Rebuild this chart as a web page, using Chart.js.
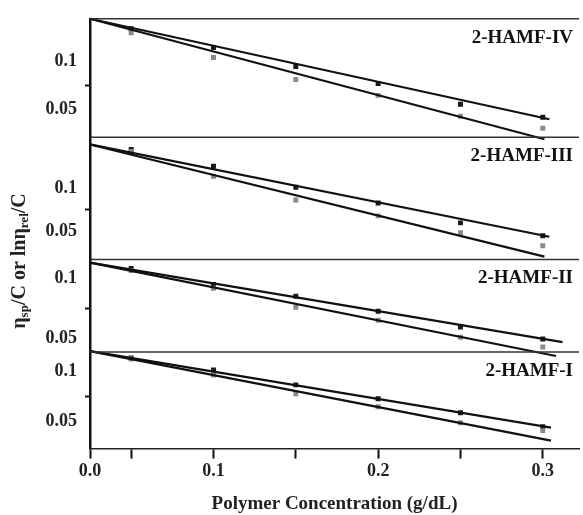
<!DOCTYPE html>
<html>
<head>
<meta charset="utf-8">
<script src="https://cdn.jsdelivr.net/npm/chart.js@4/dist/chart.umd.min.js"></script>
<style>
html,body{margin:0;padding:0;background:#fff;}
</style>
</head>
<body>
<canvas id="chart" width="583" height="515"></canvas>
<script>
// Concentraciones (g/dL)
const conc=[0.05,0.1,0.15,0.2,0.25,0.3];
const panels=["2-HAMF-IV","2-HAMF-III","2-HAMF-II","2-HAMF-I"];

// ηsp/C (oscuro) y lnηrel/C (gris), panel superior primero
const spIV=[0.1344,0.1146,0.0948,0.0771,0.0552,0.0417];
const lnIV=[0.1302,0.1042,0.0812,0.0646,0.0427,0.0302];
const spIII=[0.1443,0.125,0.1011,0.083,0.0602,0.0455];
const lnIII=[0.142,0.1136,0.0864,0.0682,0.0489,0.0341];
const spII=[0.1083,0.095,0.085,0.0725,0.0592,0.0492];
const lnII=[0.1067,0.0917,0.0758,0.065,0.0508,0.0425];
const spI=[0.1127,0.101,0.0863,0.0726,0.0588,0.0451];
const lnI=[0.1118,0.0961,0.0775,0.0647,0.049,0.0412];

// Rectas de ajuste [x0,y0,x1,y1]
const fitSpIV=[0.025,0.1448,0.304,0.0396], fitLnIV=[0.025,0.1448,0.301,0.0187];
const fitSpIII=[0.025,0.15,0.304,0.0443], fitLnIII=[0.025,0.15,0.301,0.0216];
const fitSpII=[0.025,0.1133,0.312,0.0467], fitLnII=[0.025,0.1133,0.308,0.035];
const fitSpI=[0.025,0.1196,0.305,0.0441], fitLnI=[0.025,0.1196,0.305,0.0314];

// Ejes
const yMin=[0.0208,0.0182,0.0383,0.0235];
const yMax=[0.1448,0.1583,0.1158,0.1186];
const panelWeight=[119,123,93,97];
const xTicks=[0.025,0.05,0.1,0.15,0.2,0.25,0.3];
const xLabels=["0.0","","0.1","","0.2","","0.3"];
const yTicks=[0.05,0.075,0.1];
const yLabels=["0.05","","0.1"];

const spData=[spIV,spIII,spII,spI];
const lnData=[lnIV,lnIII,lnII,lnI];
const fitSp=[fitSpIV,fitSpIII,fitSpII,fitSpI];
const fitLn=[fitLnIV,fitLnIII,fitLnII,fitLnI];

const FONT="'Liberation Serif','Times New Roman',serif";
const pts=arr=>arr.map((v,i)=>({x:conc[i],y:v}));
const seg=f=>[{x:f[0],y:f[1]},{x:f[2],y:f[3]}];

const datasets=[];
panels.forEach((name,p)=>{
  const axis="y"+p;
  datasets.push({type:"line",data:seg(fitSp[p]),yAxisID:axis,borderColor:"#111",borderWidth:2.2,pointRadius:0,clip:false});
  datasets.push({type:"line",data:seg(fitLn[p]),yAxisID:axis,borderColor:"#111",borderWidth:2.2,pointRadius:0,clip:false});
  datasets.push({type:"scatter",data:pts(lnData[p]),yAxisID:axis,pointStyle:"rect",pointRadius:3.5,backgroundColor:"#8a8a8a",borderWidth:0});
  datasets.push({type:"scatter",data:pts(spData[p]),yAxisID:axis,pointStyle:"rect",pointRadius:3.5,backgroundColor:"#1a1a1a",borderWidth:0});
});

const scales={
  x:{type:"linear",min:0.025,max:0.322,
    afterBuildTicks:s=>{s.ticks=xTicks.map(v=>({value:v}));},
    ticks:{callback:(v,i)=>xLabels[i],font:{family:FONT,size:18,weight:"bold"},color:"#222",padding:2,maxRotation:0,autoSkip:false},
    grid:{drawOnChartArea:false,tickLength:10,tickWidth:2,tickColor:"#111"},
    border:{color:"#222",width:1.5},
    title:{display:true,text:"Polymer Concentration (g/dL)",font:{family:FONT,size:19,weight:"bold"},color:"#222",padding:{top:8,bottom:0}}
  }
};
// del panel inferior al superior (el último definido queda arriba)
for(let p=panels.length-1;p>=0;p--){
  scales["y"+p]={type:"linear",position:"left",stack:"panels",stackWeight:panelWeight[p],
    min:yMin[p],max:yMax[p],
    afterBuildTicks:s=>{s.ticks=yTicks.map(v=>({value:v}));},
    afterFit:s=>{s.width=62;},
    ticks:{callback:(v,i)=>yLabels[i],font:{family:FONT,size:18,weight:"bold"},color:"#222",padding:8},
    grid:{drawOnChartArea:false,tickLength:5,tickWidth:2,tickColor:c=>c.index===1?"#111":"rgba(0,0,0,0)"},
    border:{color:"#111",width:2.5}
  };
}

// Separadores y nombres de panel
const panelPlugin={id:"panelPlugin",afterDraw(chart){
  const ctx=chart.ctx,area=chart.chartArea;
  ctx.save();
  panels.forEach((name,p)=>{
    const sc=chart.scales["y"+p];
    ctx.strokeStyle="#333";ctx.lineWidth=1.5;
    ctx.beginPath();ctx.moveTo(area.left,sc.top);ctx.lineTo(area.right,sc.top);ctx.stroke();
    ctx.fillStyle="#111";ctx.font="bold 19px "+FONT;ctx.textAlign="right";ctx.textBaseline="middle";
    ctx.fillText(name,area.right-6,sc.top+19);
  });
  ctx.restore();
}};

// Título del eje Y con subíndices
const yTitlePlugin={id:"yTitle",afterDraw(chart){
  const ctx=chart.ctx;
  const parts=[["η",20,0],["sp",13,5],["/C or ln",20,0],["η",20,0],["rel",13,5],["/C",20,0]];
  ctx.save();
  ctx.translate(20,261);ctx.rotate(-Math.PI/2);
  ctx.fillStyle="#222";ctx.textBaseline="middle";ctx.textAlign="left";
  let w=0;
  parts.forEach(([t,s])=>{ctx.font="bold "+s+"px "+FONT;w+=ctx.measureText(t).width;});
  let x=-w/2;
  parts.forEach(([t,s,dy])=>{ctx.font="bold "+s+"px "+FONT;ctx.fillText(t,x,dy);x+=ctx.measureText(t).width;});
  ctx.restore();
}};

new Chart(document.getElementById("chart"),{
  data:{datasets},
  options:{
    responsive:false,animation:false,devicePixelRatio:1,
    layout:{padding:{left:28,top:14,right:0,bottom:0}},
    plugins:{legend:{display:false},tooltip:{enabled:false}},
    scales
  },
  plugins:[panelPlugin,yTitlePlugin]
});
</script>
</body>
</html>
